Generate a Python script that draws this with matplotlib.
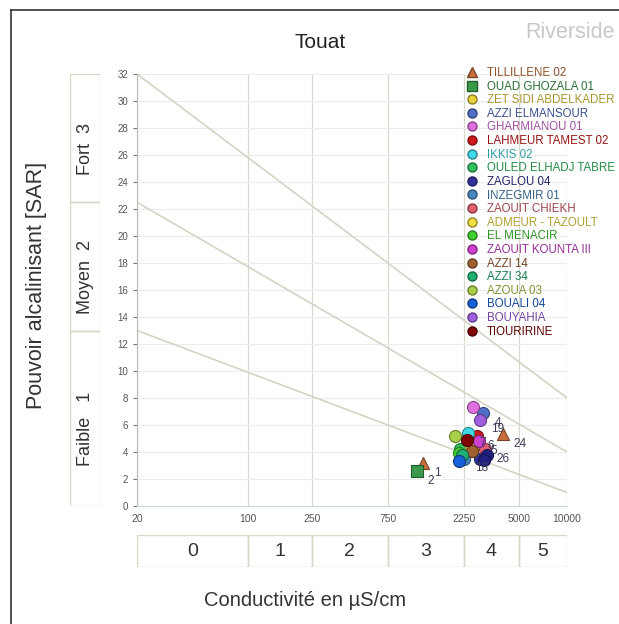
import numpy as np
import matplotlib.pyplot as plt
from matplotlib.patches import Rectangle
from matplotlib.lines import Line2D
from matplotlib.colors import to_rgb

plt.rcParams['font.family'] = ['Liberation Sans', 'DejaVu Sans']

# sites (legend order), marker colours and symbols
names = ['TILLILLENE 02', 'OUAD GHOZALA 01', 'ZET SIDI ABDELKADER', 'AZZI ELMANSOUR',
         'GHARMIANOU 01', 'LAHMEUR TAMEST 02', 'IKKIS 02', 'OULED ELHADJ TABRE',
         'ZAGLOU 04', 'INZEGMIR 01', 'ZAOUIT CHIEKH', 'ADMEUR - TAZOULT',
         'EL MENACIR', 'ZAOUIT KOUNTA III', 'AZZI 14', 'AZZI 34', 'AZOUA 03',
         'BOUALI 04', 'BOUYAHIA', 'TIOURIRINE']
colors = ['#c8703c', '#3a9a4a', '#e8d23c', '#5070c8', '#e070e0', '#d01818',
          '#40d8e8', '#30c060', '#303098', '#4888c0', '#e06070', '#f0e040',
          '#40d030', '#d040d0', '#a06030', '#20b070', '#a8d048', '#1860d8',
          '#a060e0', '#800000']
markers = ['^', 's'] + ['o'] * 18

# conductivity (uS/cm), SAR and sample number for each site
ec = [1250, 1140, 2600, 2990, 2560, 2710, 2400, 2140, 2850, 2250,
      3050, 2500, 2100, 2800, 2530, 2200, 1990, 2090, 2850, 2370]
sar = [3.2, 2.6, 4.5, 6.9, 7.3, 5.2, 5.4, 4.2, 3.5, 3.5,
       4.2, 4.4, 3.9, 4.8, 4.1, 3.8, 5.2, 3.3, 6.4, 4.9]
num = ['1', '2', '', '4', '', '6', '7', '', '', '18',
       '26', '', '', '5', '', '', '', '', '19', '']

# samples outside the legend list
extra_ec = [3950, 3130, 3000]
extra_sar = [5.3, 3.8, 3.4]
extra_num = ['24', '', '']
extra_col = ['#c8703c', '#202080', '#202080']
extra_mk = ['^', 'o', 'o']

# class limits
ec_ticks = [20, 100, 250, 750, 2250, 5000, 10000]
ec_classes = ['0', '1', '2', '3', '4', '5']
sar_limits = [0, 13, 22.5, 32]
sar_classes = ['Faible   1', 'Moyen  2', 'Fort  3']
# boundary lines: SAR at EC=20 and EC=10000
line_start = [32, 22.5, 13]
line_end = [8, 4, 1]

W, H = 619, 624
fig = plt.figure(figsize=(W / 100, H / 100), dpi=100)

def fx(px):
    return px / W

def fy(py):
    return 1 - py / H

ax = fig.add_axes([fx(137), fy(506), fx(567) - fx(137), fy(74) - fy(506)])
ax.set_xscale('log')
ax.set_xlim(20, 10000)
ax.set_ylim(0, 32)
ax.set_yticks(np.arange(0, 33, 2))
ax.set_xticks(ec_ticks)
ax.set_xticklabels([str(t) for t in ec_ticks])
ax.minorticks_off()
ax.tick_params(labelsize=7, colors='#555555', length=3, width=0.6)
ax.tick_params(axis='x', length=0, pad=6, labelsize=7.5)
for s in ['top', 'right']:
    ax.spines[s].set_visible(False)
ax.spines['left'].set_color('#b8b8b8')
ax.spines['bottom'].set_color('#c8d8e0')
ax.grid(axis='y', color='#ececec', lw=0.8)
ax.grid(axis='x', color='#d8d8cc', lw=0.9)
ax.set_axisbelow(True)

for a, b in zip(line_start, line_end):
    ax.plot([20, 10000], [a, b], color='#d4d4c4', lw=1.2, zorder=1)

def darker(c, f=0.72):
    return tuple(v * f for v in to_rgb(c))

for x, y, m, c in zip(ec, sar, markers, colors):
    ax.scatter([x], [y], s=75, marker=m, color=c, edgecolor=darker(c, 0.6),
               lw=0.8, zorder=3)
for x, y, m, c in zip(extra_ec, extra_sar, extra_mk, extra_col):
    ax.scatter([x], [y], s=75, marker=m, color=c, edgecolor=darker(c, 0.6),
               lw=0.8, zorder=3)

for x, y, n in zip(ec + extra_ec, sar + extra_sar, num + extra_num):
    if n:
        ax.annotate(n, (x, y), xytext=(8, -7), textcoords='offset points',
                    fontsize=8.5, color='#3c3c58', ha='left', va='center',
                    zorder=4)

handles = [Line2D([], [], ls='', marker=m, color=c, markeredgecolor=darker(c, 0.6),
                  markersize=6.5, label=n)
           for n, c, m in zip(names, colors, markers)]
leg = ax.legend(handles=handles, loc='upper left', bbox_to_anchor=(fx(467), fy(67)),
                bbox_transform=fig.transFigure, frameon=False, fontsize=8.3,
                handlelength=0.8, handletextpad=0.9, labelspacing=0.14,
                borderpad=0, borderaxespad=0)
for t, c in zip(leg.get_texts(), colors):
    t.set_color(darker(c))

# SAR classes on the left
axl = fig.add_axes([fx(70), fy(506), fx(100) - fx(70), fy(74) - fy(506)])
axl.set_xlim(0, 1)
axl.set_ylim(0, 32)
axl.axis('off')
for lo, hi, lab in zip(sar_limits[:-1], sar_limits[1:], sar_classes):
    axl.add_patch(Rectangle((0, lo), 1, hi - lo, fill=False, ec='#d8d8c8', lw=1))
    axl.text(0.5, (lo + hi) / 2 - 0.8, lab, rotation=90, ha='center', va='center',
             fontsize=13, color='#333333')

# conductivity classes below
axb = fig.add_axes([fx(137), fy(567), fx(567) - fx(137), fy(535) - fy(567)])
axb.set_xscale('log')
axb.set_xlim(20, 10000)
axb.set_ylim(0, 1)
axb.axis('off')
for lo, hi, lab in zip(ec_ticks[:-1], ec_ticks[1:], ec_classes):
    axb.add_patch(Rectangle((lo, 0), hi - lo, 1, fill=False, ec='#d8d8c8', lw=1))
    axb.text(np.sqrt(lo * hi), 0.5, lab, ha='center', va='center',
             fontsize=14, color='#333333')

fig.text(fx(37), fy(285), 'Pouvoir alcalinisant [SAR]', rotation=90,
         ha='center', va='center', fontsize=15.5, color='#333333')
fig.text(fx(305), fy(601), 'Conductivité en µS/cm', ha='center', va='center',
         fontsize=14.5, color='#333333')
fig.text(fx(320), fy(43), 'Touat', ha='center', va='center', fontsize=15,
         color='#222222')
fig.text(fx(570), fy(33), 'Riverside', ha='center', va='center', fontsize=15.5,
         color='#c8c8c8')

# outer frame
fig.add_artist(Line2D([fx(11), fx(11)], [0, fy(10)], color='#333333', lw=1.2))
fig.add_artist(Line2D([fx(11), 1], [fy(10), fy(10)], color='#333333', lw=1.2))

fig.savefig('out.png', dpi=100)
